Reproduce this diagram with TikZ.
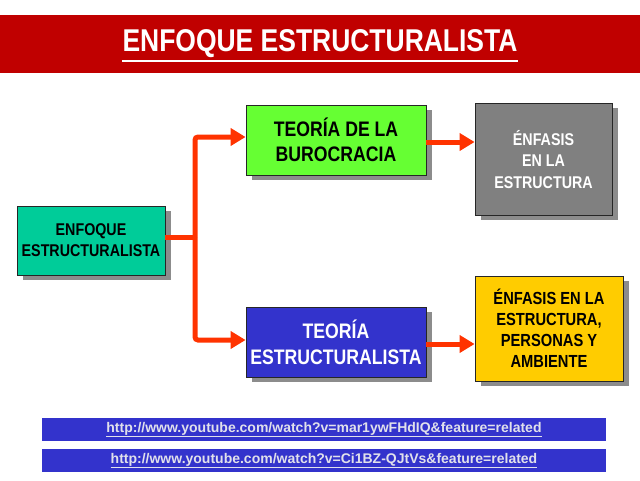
\documentclass[tikz,border=0pt]{standalone}
\usepackage{fontspec}
\setmainfont{Liberation Sans}
\newfontfamily\narrowfont[FakeStretch=0.84]{Liberation Sans}
\usetikzlibrary{arrows.meta,shadows}
\definecolor{bannerred}{RGB}{192,0,0}
\definecolor{tealbox}{RGB}{0,204,153}
\definecolor{greenbox}{RGB}{102,255,51}
\definecolor{graybox}{RGB}{128,128,128}
\definecolor{bluebox}{RGB}{51,51,204}
\definecolor{yellowbox}{RGB}{255,204,0}
\definecolor{arrowred}{RGB}{255,51,0}
\definecolor{shadowgray}{RGB}{140,140,140}
\definecolor{linkwhite}{RGB}{225,225,235}
\tikzset{
  box/.style={draw=black!85, line width=0.8pt, align=center, inner sep=0pt,
    font=\narrowfont\bfseries, text depth=0pt,
    drop shadow={shadow xshift=6pt, shadow yshift=-5pt, fill=shadowgray, opacity=1}},
  conn/.style={draw=arrowred, line width=5pt, rounded corners=3pt},
  tip/.style={-{Triangle[length=15pt,width=17pt]}},
  linkbar/.style={fill=bluebox, minimum width=564pt, minimum height=23pt, inner sep=0pt,
    font=\bfseries\fontsize{14}{15}\selectfont, text=linkwhite},
}
\begin{document}
\begin{tikzpicture}[x=1pt,y=-1pt]
\useasboundingbox (0,0) rectangle (640,480);
\fill[white] (0,0) rectangle (640,480);
% banner
\fill[bannerred] (0,15) rectangle (640,73);
\node[text=white, font=\narrowfont\bfseries\fontsize{31.5}{33}\selectfont, inner sep=0pt] (title) at (320,44) {ENFOQUE ESTRUCTURALISTA};
\draw[white, line width=2pt] (title.south west |- 0,61) -- (title.south east |- 0,61);
% boxes
\node[box, fill=tealbox, minimum width=148pt, minimum height=69pt, font=\narrowfont\bfseries\fontsize{17}{21}\selectfont] (enf) at (91,240.5) {ENFOQUE\\ESTRUCTURALISTA};
\node[box, fill=greenbox, minimum width=180pt, minimum height=70pt, font=\narrowfont\bfseries\fontsize{21}{25}\selectfont] (buro) at (336,140) {TEORÍA DE LA\\BUROCRACIA};
\node[box, fill=graybox, text=white, minimum width=137pt, minimum height=112pt, font=\narrowfont\bfseries\fontsize{17}{21.5}\selectfont] (gris) at (543.5,159) {ÉNFASIS\\EN LA\\ESTRUCTURA};
\node[box, fill=bluebox, text=white, minimum width=180pt, minimum height=70pt, font=\narrowfont\bfseries\fontsize{21}{26}\selectfont] (teo) at (336,342) {TEORÍA\\ESTRUCTURALISTA};
\node[box, fill=yellowbox, minimum width=148pt, minimum height=105pt, font=\narrowfont\bfseries\fontsize{17.5}{21}\selectfont] (amar) at (549,328.5) {ÉNFASIS EN LA\\ESTRUCTURA,\\PERSONAS Y\\AMBIENTE};
% connectors
\coordinate (j) at (195,237);
\draw[conn] (enf.east |- j) -- (j);
\draw[conn, tip] (j) -- (195,137) -- (buro.west |- 0,137);
\draw[conn, tip] (j) -- (195,340) -- (teo.west |- 0,340);
\draw[conn, tip, rounded corners=0pt] (buro.east |- 0,142) -- (gris.west |- 0,142);
\draw[conn, tip, rounded corners=0pt] (teo.east |- 0,344) -- (amar.west |- 0,344);
% link bars
\node[linkbar] (l1) at (324,429.5) {\underline{http://www.youtube.com/watch?v=mar1ywFHdIQ\&feature=related}};
\node[linkbar] (l2) at (324,460.5) {\underline{http://www.youtube.com/watch?v=Ci1BZ-QJtVs\&feature=related}};
\end{tikzpicture}
\end{document}
